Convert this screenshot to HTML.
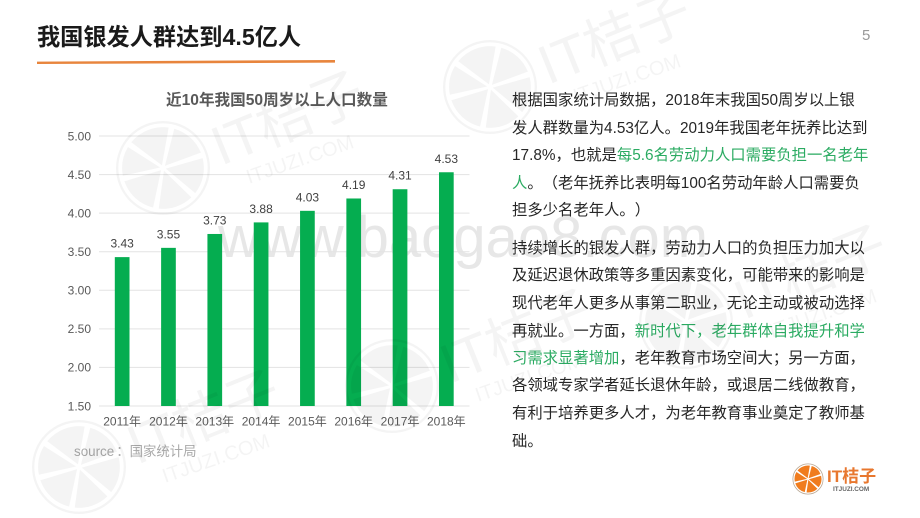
<!DOCTYPE html>
<html lang="zh-CN">
<head>
<meta charset="utf-8">
<title>我国银发人群达到4.5亿人</title>
<style>
html,body{margin:0;padding:0;background:#fff}
#slide{position:relative;width:920px;height:518px;overflow:hidden;background:#fff;font-family:"Liberation Sans","Noto Sans CJK SC",sans-serif;text-spacing-trim:space-all}
#slide svg{position:absolute;left:0;top:0}
.line{position:absolute;left:512px;white-space:nowrap;font-size:15.35px;line-height:20px;color:#262626;margin-top:1px}
.hl{color:#2bab62}
</style>
</head>
<body>
<div id="slide">
  <div style="position:absolute;left:218px;top:198px;font-size:58px;line-height:80px;color:#e7e7e7;white-space:nowrap">www.baogao8.com</div>

  <svg id="chart" width="920" height="518"></svg>

  <div style="position:absolute;left:37px;top:21px;font-size:23.2px;line-height:32px;font-weight:700;color:#1a1a1a;white-space:nowrap">我国银发人群达到4.5亿人</div>
  <svg width="920" height="518"><polygon points="37,61.6 335,60 335,62.6 37,64" fill="#e8853d"/></svg>
  <div style="position:absolute;left:862px;top:27px;font-size:15px;line-height:18px;color:#999">5</div>

  <div style="position:absolute;left:166px;top:91px;font-size:15.6px;line-height:20px;font-weight:700;color:#595959;white-space:nowrap">近10年我国50周岁以上人口数量</div>
  <div style="position:absolute;left:74px;top:443px;font-size:13.4px;line-height:18px;color:#aaa;white-space:nowrap">source<span style="margin-left:2px">：</span>国家统计局</div>

  <div>
    <div class="line" style="top:90px">根据国家统计局数据，2018年末我国50周岁以上银</div>
    <div class="line" style="top:118px">发人群数量为4.53亿人。2019年我国老年抚养比达到</div>
    <div class="line" style="top:145px">17.8%，也就是<span class="hl">每5.6名劳动力人口需要负担一名老年</span></div>
    <div class="line" style="top:173px"><span class="hl">人</span>。（老年抚养比表明每100名劳动年龄人口需要负</div>
    <div class="line" style="top:200px">担多少名老年人。）</div>
  </div>
  <div>
    <div class="line" style="top:238px">持续增长的银发人群，劳动力人口的负担压力加大以</div>
    <div class="line" style="top:265px">及延迟退休政策等多重因素变化，可能带来的影响是</div>
    <div class="line" style="top:293px">现代老年人更多从事第二职业，无论主动或被动选择</div>
    <div class="line" style="top:321px">再就业。一方面，<span class="hl">新时代下，老年群体自我提升和学</span></div>
    <div class="line" style="top:348px"><span class="hl">习需求显著增加</span>，老年教育市场空间大；另一方面，</div>
    <div class="line" style="top:375px">各领域专家学者延长退休年龄，或退居二线做教育，</div>
    <div class="line" style="top:403px">有利于培养更多人才，为老年教育事业奠定了教师基</div>
    <div class="line" style="top:431px">础。</div>
  </div>

  <svg id="marks" width="920" height="518"></svg>

  <div style="position:absolute;left:827px;top:467px;font-size:17px;line-height:20px;font-weight:700;color:#e8772e;white-space:nowrap">IT桔子</div>
  <div style="position:absolute;left:833px;top:486px;font-size:6.4px;line-height:8px;font-weight:700;color:#666;white-space:nowrap">ITJUZI.COM</div>
</div>

<script>
var categories = ["2011年","2012年","2013年","2014年","2015年","2016年","2017年","2018年"];
var population = [3.43,3.55,3.73,3.88,4.03,4.19,4.31,4.53];
var valueLabels = ["3.43","3.55","3.73","3.88","4.03","4.19","4.31","4.53"];
var yTicks = [1.5,2,2.5,3,3.5,4,4.5,5];
var yTickLabels = ["1.50","2.00","2.50","3.00","3.50","4.00","4.50","5.00"];

var NS = "http://www.w3.org/2000/svg";
var plotLeft = 99, plotRight = 469.5, plotTop = 136, plotBottom = 406;
var yMin = yTicks[0], yMax = yTicks[yTicks.length - 1];
function yScale(v){ return plotBottom - (v - yMin) / (yMax - yMin) * (plotBottom - plotTop); }
function xScale(i){ return plotLeft + (i + 0.5) * (plotRight - plotLeft) / categories.length; }
function make(parent, tag, attrs, text){
  var el = document.createElementNS(NS, tag);
  for (var k in attrs) el.setAttribute(k, attrs[k]);
  if (text !== undefined) el.textContent = text;
  parent.appendChild(el);
  return el;
}

var chart = document.getElementById("chart");
yTicks.forEach(function(t, i){
  var gl = make(chart, "line", {x1: plotLeft, x2: plotRight, y1: yScale(t), y2: yScale(t), stroke: "#e3e3e3", "stroke-width": 1});
  
  
  var tl = make(chart, "text", {x: 91, y: yScale(t) + 4.3, "text-anchor": "end", "font-size": 12, fill: "#595959"}, yTickLabels[i]);
  
  
});
var barWidth = 14.7;
categories.forEach(function(c, i){
  var top = yScale(population[i]);
  var bar = make(chart, "rect", {x: xScale(i) - barWidth / 2, y: top, width: barWidth, height: plotBottom - top, fill: "#05ad50"});
  
  
  var vl = make(chart, "text", {x: xScale(i), y: top - 9.5, "text-anchor": "middle", "font-size": 12, fill: "#404040"}, valueLabels[i]);
  
  
  var xl = make(chart, "text", {x: xScale(i), y: 425.5, "text-anchor": "middle", "font-size": 12, fill: "#595959"}, c);
  
  
});

var spokes = [78, 18, -42, -100, -165, -215];
function drawFruit(parent, cx, cy, r, ringColor, fill){
  var g = make(parent, "g", {});
  
  
  make(g, "circle", {cx: cx, cy: cy, r: r - r * 0.025, fill: "none", stroke: ringColor, "stroke-width": r * 0.05});
  var inner = r * 0.87, gap = 4;
  spokes.forEach(function(a, i){
    var b = spokes[(i + 1) % spokes.length];
    if (b > a) b -= 360;
    var a1 = (a - gap) * Math.PI / 180, b1 = (b + gap) * Math.PI / 180, mid = (a1 + b1) / 2, off = r * 0.06;
    var d = "M" + (cx + off * Math.cos(mid)) + " " + (cy - off * Math.sin(mid)) +
      "L" + (cx + inner * Math.cos(a1)) + " " + (cy - inner * Math.sin(a1)) +
      "A" + inner + " " + inner + " 0 0 1 " + (cx + inner * Math.cos(b1)) + " " + (cy - inner * Math.sin(b1)) + "Z";
    make(g, "path", {d: d, fill: fill});
  });
}

var marks = document.getElementById("marks");
var wmColor = "rgba(0,0,0,0.042)";
function drawWatermark(cx, cy){
  drawFruit(marks, cx, cy, 47, wmColor, wmColor);
  var t1 = make(marks, "text", {x: 0, y: 0, "font-size": 55, fill: wmColor, transform: "translate(" + (cx + 58) + " " + (cy - 2) + ") rotate(-22)"}, "IT桔子");
  
  
  var t2 = make(marks, "text", {x: 0, y: 0, "font-size": 20, fill: wmColor, transform: "translate(" + (cx + 86) + " " + (cy + 16) + ") rotate(-19)"}, "ITJUZI.COM");
  
  
}
drawWatermark(163, 168);
drawWatermark(490, 87);
drawWatermark(79, 467);
drawWatermark(392, 386);
drawWatermark(686, 322);
drawFruit(marks, 808, 479, 15.5, "#b9a793", "#f07c1e");
</script>
</body>
</html>
